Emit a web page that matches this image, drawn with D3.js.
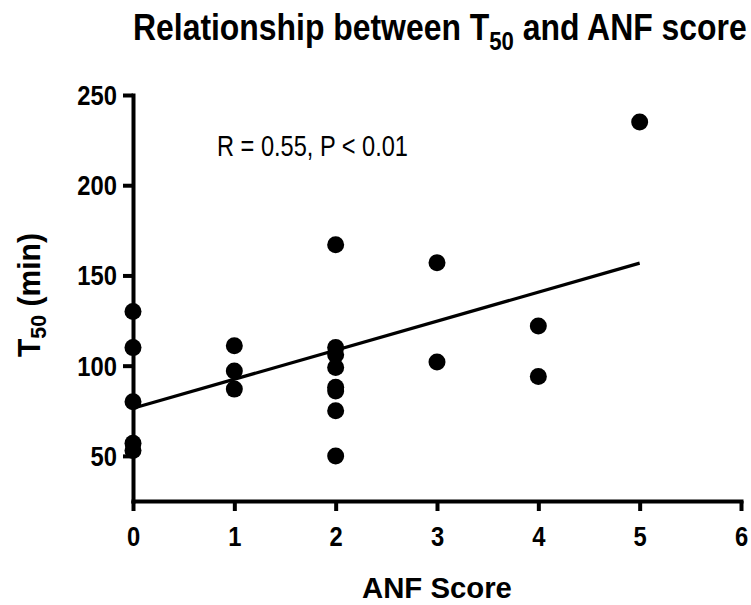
<!DOCTYPE html>
<html>
<head>
<meta charset="utf-8">
<script src="https://cdn.jsdelivr.net/npm/d3@7"></script>
<style>
  html, body { margin: 0; padding: 0; background: #fff; }
  svg { display: block; }
  text { font-family: "Liberation Sans", Arial, sans-serif; }
</style>
</head>
<body>
<svg id="chart" width="751" height="605"></svg>
<script>
// ---- data ----
const anfScore = [0, 0, 0, 0, 0, 1, 1, 1, 2, 2, 2, 2, 2, 2, 2, 2, 3, 3, 4, 4, 5];
const t50Min   = [130, 110, 80, 57, 53, 111, 97, 87, 167, 110, 106, 99, 88, 86, 75, 50, 157, 102, 122, 94, 235];
const xTicks = [0, 1, 2, 3, 4, 5, 6];
const yTicks = [50, 100, 150, 200, 250];
const titleParts = ["Relationship between T", "50", " and ANF score"];
const yLabelParts = ["T", "50", " (min)"];
const xLabel = "ANF Score";
const annotation = "R = 0.55, P < 0.01";

// ---- layout ----
const svg = d3.select("#chart");
const x = d3.scaleLinear().domain([0, 6]).range([133, 741]);
const y = d3.scaleLinear().domain([25, 250]).range([501, 95]);
const NARROW = 0.88;

// place a text at (px,py) compressed horizontally to a target width (or fixed factor)
function narrowText(sel, px, py, anchor, targetWidth, factor) {
  sel.attr("x", null).attr("y", null).attr("text-anchor", "start");
  const w = sel.node().getComputedTextLength();
  const k = targetWidth ? targetWidth / w : factor;
  const w2 = w * k;
  let left = px;
  if (anchor === "middle") left = px - w2 / 2;
  if (anchor === "end") left = px - w2;
  sel.attr("transform", `translate(${left},${py}) scale(${k},1)`);
}

// regression line computed from data
const n = anfScore.length;
const mx = d3.mean(anfScore), my = d3.mean(t50Min);
let sxy = 0, sxx = 0;
for (let i = 0; i < n; i++) { sxy += (anfScore[i]-mx)*(t50Min[i]-my); sxx += (anfScore[i]-mx)**2; }
const slope = sxy / sxx, intercept = my - slope * mx;
const xMin = d3.min(anfScore), xMax = d3.max(anfScore);

// axes
const yAxis = svg.append("g").attr("transform", "translate(133,0)")
  .call(d3.axisLeft(y).tickValues(yTicks).tickSize(10).tickSizeOuter(0));
const xAxis = svg.append("g").attr("transform", "translate(0,501)")
  .call(d3.axisBottom(x).tickValues(xTicks).tickSize(10).tickSizeOuter(0).tickFormat(d3.format("d")));

[yAxis, xAxis].forEach(g => {
  g.select(".domain").attr("stroke", "#000").attr("stroke-width", 4).attr("stroke-linecap", "square");
  g.selectAll(".tick line").attr("stroke", "#000").attr("stroke-width", 4);
  g.selectAll(".tick text").attr("fill", "#000").attr("dy", null)
    .attr("font-size", 27).attr("font-weight", "bold")
    .attr("font-family", "'Liberation Sans', Arial, sans-serif");
});
yAxis.selectAll(".tick text").each(function() { narrowText(d3.select(this), -16, 9.5, "end", null, NARROW); });
xAxis.selectAll(".tick text").each(function() { narrowText(d3.select(this), 0, 45, "middle", null, NARROW); });

// regression line
svg.append("line")
  .attr("x1", x(xMin)).attr("y1", y(intercept + slope * xMin))
  .attr("x2", x(xMax)).attr("y2", y(intercept + slope * xMax))
  .attr("stroke", "#000").attr("stroke-width", 3.2);

// points
svg.append("g").selectAll("circle")
  .data(anfScore.map((d, i) => [d, t50Min[i]]))
  .join("circle")
  .attr("cx", d => x(d[0])).attr("cy", d => y(d[1]))
  .attr("r", 8.5).attr("fill", "#000");

// title
const title = svg.append("text").attr("font-size", 36).attr("font-weight", "bold");
title.append("tspan").text(titleParts[0]);
title.append("tspan").attr("font-size", 25).attr("dy", 10).text(titleParts[1]);
title.append("tspan").attr("dy", -10).text(titleParts[2]);
narrowText(title, 133, 40, "start", 614, null);

// y label
const yl = svg.append("text")
  .attr("transform", "translate(40,357) rotate(-90)")
  .attr("font-size", 31).attr("font-weight", "bold");
yl.append("tspan").text(yLabelParts[0]);
yl.append("tspan").attr("font-size", 22).attr("dy", 6).text(yLabelParts[1]);
yl.append("tspan").attr("dy", -6).text(yLabelParts[2]);
{
  const w = yl.node().getComputedTextLength();
  yl.attr("transform", `translate(40,357) rotate(-90) scale(${124 / w},1)`);
}

// x label
const xl = svg.append("text").attr("font-size", 29).attr("font-weight", "bold").text(xLabel);
narrowText(xl, 437, 598, "middle", 150, null);

// annotation
const ann = svg.append("text").attr("font-size", 29).text(annotation);
narrowText(ann, 217, 156, "start", 191, null);
</script>
</body>
</html>
